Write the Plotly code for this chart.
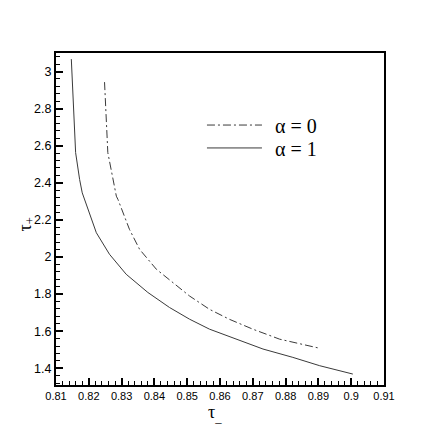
import plotly.graph_objects as go

# alpha = 1 (solid)
tau_minus_a1 = [0.81467, 0.81537, 0.81598, 0.8172, 0.8180, 0.8223, 0.8263, 0.8314, 0.8380,
                0.8446, 0.8507, 0.8568, 0.8650, 0.8731, 0.8822, 0.8904, 0.9005]
tau_plus_a1 = [3.067, 2.758, 2.563, 2.418, 2.346, 2.131, 2.015, 1.907, 1.809,
               1.728, 1.665, 1.611, 1.558, 1.504, 1.459, 1.414, 1.369]

# alpha = 0 (dash-dot)
tau_minus_a0 = [0.8248, 0.8253, 0.8258, 0.8284, 0.8289, 0.8324, 0.8355, 0.8406, 0.8467,
                0.8507, 0.8568, 0.8629, 0.8700, 0.8782, 0.8904]
tau_plus_a0 = [2.943, 2.778, 2.563, 2.328, 2.310, 2.149, 2.041, 1.934, 1.844,
               1.790, 1.718, 1.664, 1.611, 1.557, 1.508]

series_names = ["\u2009\u2009\u03b1 = 0", "\u2009\u2009\u03b1 = 1"]

fig = go.Figure()
fig.add_trace(go.Scatter(x=tau_minus_a0, y=tau_plus_a0, mode="lines", name=series_names[0],
                         legend="legend",
                         line=dict(color="#3a3a3a", width=1, dash="8px,3px,2px,3px")))
fig.add_trace(go.Scatter(x=tau_minus_a1, y=tau_plus_a1, mode="lines", name=series_names[1],
                         legend="legend2",
                         line=dict(color="#3a3a3a", width=1)))

leg_common = dict(xanchor="left", yanchor="middle",
                  font=dict(family="Liberation Serif", size=20, color="black"),
                  itemwidth=55, bgcolor="rgba(0,0,0,0)")

fig.update_layout(
    width=428, height=428,
    margin=dict(l=48, r=52, t=45, b=51),
    paper_bgcolor="white", plot_bgcolor="white",
    showlegend=True,
    legend=dict(x=0.445, y=0.783, **leg_common),
    legend2=dict(x=0.445, y=0.714, **leg_common),
    font=dict(family="Liberation Sans", color="black"),
)
fig.update_xaxes(range=[0.81, 0.91], dtick=0.01, tick0=0.81,
                 showgrid=False, zeroline=False,
                 showline=True, linecolor="black", linewidth=2, mirror=True,
                 ticks="inside", ticklen=7, tickwidth=2, tickcolor="black",
                 tickfont=dict(family="Liberation Sans", size=11),
                 minor=dict(dtick=0.002, ticks="inside", ticklen=4, tickwidth=1, tickcolor="black"))
fig.update_yaxes(range=[1.31, 3.1], dtick=0.2, tick0=1.4,
                 showgrid=False, zeroline=False,
                 showline=True, linecolor="black", linewidth=2, mirror=True,
                 ticks="inside", ticklen=7, tickwidth=2, tickcolor="black",
                 tickfont=dict(family="Liberation Sans", size=12.5),
                 minor=dict(dtick=0.04, ticks="inside", ticklen=4, tickwidth=1, tickcolor="black"))

fig.add_annotation(text="\u03c4<sub>_</sub>", xref="paper", yref="paper", x=0.484, y=-0.085,
                   xanchor="center", yanchor="middle", showarrow=False,
                   font=dict(family="Liberation Serif", size=18, color="black"))
fig.add_annotation(text="\u03c4<sub>+</sub>", xref="paper", yref="paper", x=-0.09, y=0.485,
                   xanchor="center", yanchor="middle", showarrow=False, textangle=-90,
                   font=dict(family="Liberation Serif", size=18, color="black"))

fig.write_html("out.html")
